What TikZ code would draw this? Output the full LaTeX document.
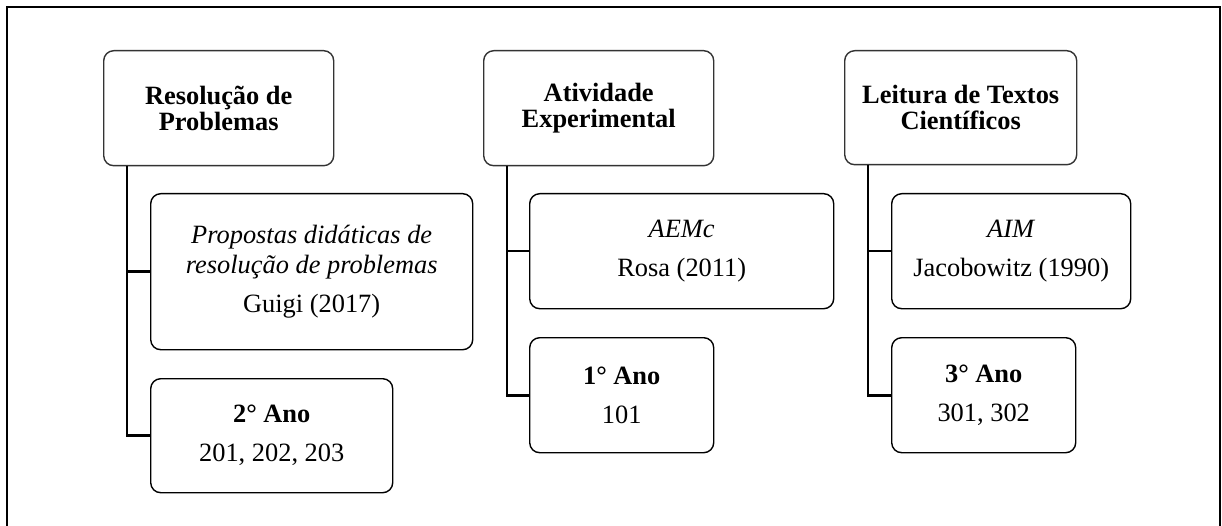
\documentclass[tikz,border=0pt]{standalone}
\usepackage{fontspec}
\setmainfont{Liberation Serif}
\begin{document}
\begin{tikzpicture}[x=1pt,y=-1pt,
  headbox/.style={draw=black!80, line width=1.4pt, rounded corners=10pt, anchor=north west,
    align=center, inner sep=0pt, font=\bfseries\fontsize{26.4}{26.3}\selectfont},
  infobox/.style={draw=black, line width=1.4pt, rounded corners=10pt, anchor=north west,
    align=center, inner sep=0pt, font=\fontsize{26.4}{29.5}\selectfont},
  link/.style={draw=black, line width=2.6pt}]
\useasboundingbox (0,0) rectangle (1222,526);
\clip (0,0) rectangle (1222,526);
\draw[line width=1.3pt] (7,540) -- (7,7) -- (1220,7) -- (1220,540);

% column 1
\node[headbox, minimum width=230pt, minimum height=115pt] (h1) at (103,50) {Resolução de\\Problemas};
\node[infobox, minimum width=322pt, minimum height=156pt] (a1) at (150,193) {\itshape Propostas didáticas de\\\itshape resolução de problemas\\[9.5pt]Guigi (2017)};
\node[infobox, minimum width=242pt, minimum height=114pt] (b1) at (150,378) {\textbf{2° Ano}\\[9.5pt]201, 202, 203};

% column 2
\node[headbox, minimum width=230pt, minimum height=115pt] (h2) at (483,50) {Atividade\\Experimental};
\node[infobox, minimum width=304pt, minimum height=115pt] (a2) at (529,193) {\textit{AEMc}\\[9.5pt]Rosa (2011)};
\node[infobox, minimum width=184pt, minimum height=115pt] (b2) at (529,337) {\textbf{1° Ano}\\[9.5pt]101};

% column 3
\node[headbox, minimum width=232pt, minimum height=114pt] (h3) at (844,50) {Leitura de Textos\\Científicos};
\node[infobox, minimum width=239pt, minimum height=115pt] (a3) at (891,193) {\textit{AIM}\\[9.5pt]Jacobowitz (1990)};
\node[infobox, minimum width=184pt, minimum height=115pt] (b3) at (891,337) {\textbf{3° Ano}\\[9.5pt]301, 302};

% connectors
\draw[link] ([xshift=24pt]h1.south west) |- (a1.west);
\draw[link] ([xshift=24pt]h1.south west) |- (b1.west);
\draw[link] ([xshift=24pt]h2.south west) |- (a2.west);
\draw[link] ([xshift=24pt]h2.south west) |- (b2.west);
\draw[link] ([xshift=24pt]h3.south west) |- (a3.west);
\draw[link] ([xshift=24pt]h3.south west) |- (b3.west);
\end{tikzpicture}
\end{document}
